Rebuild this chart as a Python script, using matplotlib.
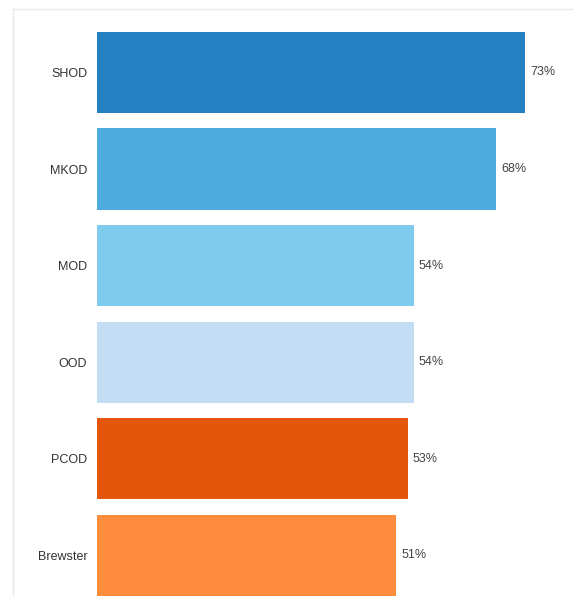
import matplotlib.pyplot as plt
from matplotlib.lines import Line2D

plt.rcParams["font.family"] = ["Liberation Sans", "DejaVu Sans"]

categories = ["SHOD", "MKOD", "MOD", "OOD", "PCOD", "Brewster"]
values = [73, 68, 54, 54, 53, 51]
labels = ["73%", "68%", "54%", "54%", "53%", "51%"]
colors = ["#2580c2", "#4dabde", "#7ecbee", "#c2ddf4", "#e3560c", "#fd8d3c"]

fig = plt.figure(figsize=(5.73, 5.96), dpi=100)
ax = fig.add_axes([97 / 573, 0, 1 - 97 / 573, 1])

y = range(len(categories))
ax.barh(y, values, height=0.84, color=colors)
ax.set_xlim(0, 81.2)
ax.set_ylim(5.42, -0.75)

for i, (v, lab) in enumerate(zip(values, labels)):
    ax.text(v + 0.9, i, lab, va="center", ha="left", fontsize=9, color="#444444")

ax.set_yticks(list(y))
ax.set_yticklabels(categories, fontsize=9, color="#333333")
ax.tick_params(axis="y", length=0, pad=7)
ax.set_xticks([])
for s in ax.spines.values():
    s.set_visible(False)

# faint frame of the original panel
fig.add_artist(Line2D([13 / 573, 1], [1 - 9 / 596, 1 - 9 / 596], color="#e8e8e8", lw=1))
fig.add_artist(Line2D([13 / 573, 13 / 573], [0, 1 - 9 / 596], color="#e8e8e8", lw=1))

fig.savefig("out.png", dpi=100)
